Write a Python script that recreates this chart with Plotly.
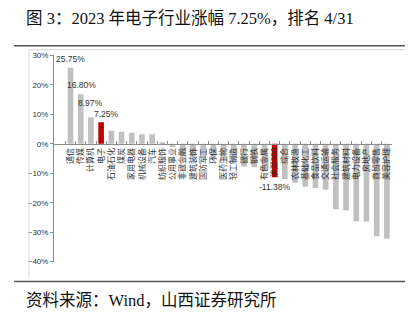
import plotly.graph_objects as go

W, H = 416, 326

categories = ["通信", "传媒", "计算机", "电子", "石油石化", "煤炭", "家用电器", "机械设备", "汽车",
              "纺织服饰", "公用事业", "非银金融", "建筑装饰", "国防军工", "环保", "医药生物", "轻工制造",
              "银行", "钢铁", "有色金属", "沪深300", "综合", "农林牧渔", "基础化工", "食品饮料", "交通运输",
              "社会服务", "建筑材料", "电力设备", "房地产", "商贸零售", "美容护理"]
values = [25.75, 16.80, 8.97, 7.25, 4.4, 4.1, 3.7, 3.2, 3.2,
          0.3, -1.1, -4.3, -4.4, -4.9, -5.0, -5.5, -6.0,
          -7.7, -8.0, -9.2, -11.38, -12.0, -13.2, -14.6, -15.0, -15.6,
          -22.2, -22.6, -26.3, -26.4, -31.4, -32.2]
highlight = ["电子", "沪深300"]
labelled = ["通信", "传媒", "计算机", "电子", "沪深300"]
label_xshift = {"通信": 0, "传媒": 1, "计算机": 0, "电子": 5, "沪深300": 0}
label_yshift = {"通信": 2, "传媒": 2, "计算机": 7, "电子": 1, "沪深300": -3}

colors = ["#c00000" if c in highlight else "#c0c0c0" for c in categories]

fig = go.Figure()
fig.add_trace(go.Bar(
    x=categories, y=values, marker=dict(color=colors, line=dict(width=0)),
    width=0.55, cliponaxis=False,
))

for c, v in zip(categories, values):
    if c in labelled:
        fig.add_annotation(x=c, y=v, text=f"{v:.2f}%", showarrow=False,
                           xanchor="center", yanchor="bottom" if v >= 0 else "top",
                           yshift=label_yshift[c], xshift=label_xshift[c],
                           font=dict(family="Liberation Sans, Arial", size=8.5, color="#333333"))

y0 = 1 - 265 / H
y1 = 1 - 52.7 / H
zero_pos = y0 + (y1 - y0) * 40 / 70

fig.update_layout(
    width=W, height=H, margin=dict(l=0, r=0, t=0, b=0),
    paper_bgcolor="white", plot_bgcolor="white", showlegend=False,
    bargap=0.45,
    xaxis=dict(domain=[54 / W, 392 / W], anchor="free", position=zero_pos,
               showline=True, linecolor="#8c8c8c", linewidth=1,
               ticks="inside", ticklen=3, tickcolor="#8c8c8c", tickson="boundaries",
               tickangle=-90, tickfont=dict(family="Noto Sans CJK SC", size=8, color="#333333"),
               showgrid=False, zeroline=False, fixedrange=True),
    yaxis=dict(domain=[y0, y1], range=[-40, 30], dtick=10, ticksuffix="%",
               showline=True, linecolor="#8c8c8c", linewidth=1,
               ticks="outside", ticklen=3, tickcolor="#8c8c8c",
               tickfont=dict(family="Liberation Sans, Arial", size=8, color="#333333"),
               showgrid=False, zeroline=False),
)

# frame lines
fig.add_shape(type="line", xref="paper", yref="paper", x0=29 / W, x1=405 / W,
              y0=1 - 47 / H, y1=1 - 47 / H, line=dict(color="#d9d9d9", width=1))
fig.add_shape(type="line", xref="paper", yref="paper", x0=29 / W, x1=29 / W,
              y0=1 - 47 / H, y1=1 - 282 / H, line=dict(color="#d9d9d9", width=1))
# title / source separator lines
for yy in (43, 285.5):
    fig.add_shape(type="line", xref="paper", yref="paper", x0=14 / W, x1=405 / W,
                  y0=1 - yy / H, y1=1 - yy / H, line=dict(color="#555555", width=1.5))

serif = "Liberation Serif, Noto Sans CJK SC"
fig.add_annotation(text="图 3：2023 年电子行业涨幅 7.25%，排名 4/31", xref="paper", yref="paper",
                   x=24 / W, y=1 - 15 / H, xanchor="left", yanchor="middle", showarrow=False,
                   font=dict(family=serif, size=16.5, color="#111111"))
fig.add_annotation(text="资料来源：Wind，山西证券研究所", xref="paper", yref="paper",
                   x=24 / W, y=1 - 305 / H, xanchor="left", yanchor="middle", showarrow=False,
                   font=dict(family=serif, size=16.5, color="#111111"))

fig.write_html("out.html")
